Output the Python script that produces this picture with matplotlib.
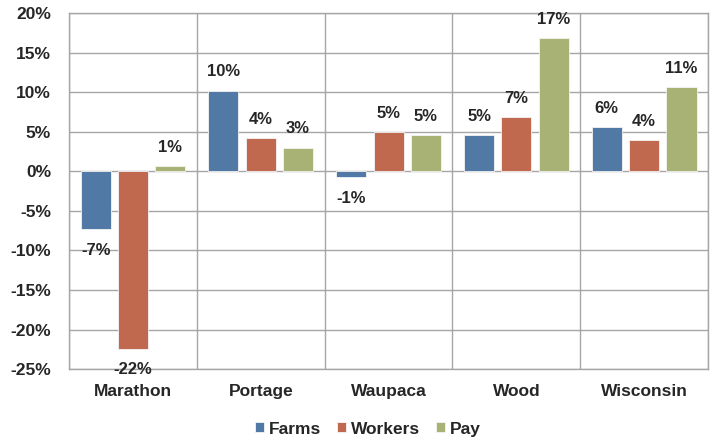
import numpy as np
import matplotlib.pyplot as plt
from matplotlib.ticker import FuncFormatter, MultipleLocator

plt.rcParams['font.family'] = ['Liberation Sans', 'DejaVu Sans']
plt.rcParams['font.weight'] = 'bold'

# percent change by area
areas = ['Marathon', 'Portage', 'Waupaca', 'Wood', 'Wisconsin']
farms = [-7.3, 10.2, -0.7, 4.6, 5.6]
workers = [-22.4, 4.2, 4.9, 6.9, 4.0]
pay = [0.7, 3.0, 4.6, 16.8, 10.6]

series = [('Farms', farms, '#5079A6'),
          ('Workers', workers, '#C1694F'),
          ('Pay', pay, '#A7B274')]

fig = plt.figure(figsize=(7.12, 4.4), dpi=100)
ax = fig.add_axes([0.097, 0.161, 0.8975, 0.8095])

x = np.arange(len(areas))
w = 0.235
step = 0.292
text_col = '#262626'
grid_col = '#A6A6A6'

for i, (name, vals, col) in enumerate(series):
    pos = x + (i - 1) * step
    ax.bar(pos, vals, width=w, color=col, edgecolor='#F4F4F4',
           linewidth=0.6, label=name, zorder=3)
    for px, v in zip(pos, vals):
        if v >= 0:
            ax.annotate('%d%%' % round(v), (px, v), xytext=(0, 8),
                        textcoords='offset points', ha='center', va='bottom',
                        fontsize=12, fontweight='bold', color=text_col)
        else:
            ax.annotate('%d%%' % round(v), (px, v), xytext=(0, -10),
                        textcoords='offset points', ha='center', va='top',
                        fontsize=12, fontweight='bold', color=text_col)

ax.set_xlim(-0.5, len(areas) - 0.5)
ax.set_ylim(-25, 20)
ax.yaxis.set_major_locator(MultipleLocator(5))
ax.yaxis.set_major_formatter(FuncFormatter(lambda v, p: '%d%%' % v))
ax.set_xticks(x)
ax.set_xticklabels(areas)
ax.set_xticks(np.arange(-0.5, len(areas), 1), minor=True)

ax.grid(axis='y', which='major', color=grid_col, linewidth=1.0, zorder=0)
ax.grid(axis='x', which='minor', color=grid_col, linewidth=1.0, zorder=0)
ax.set_axisbelow(True)
for s in ax.spines.values():
    s.set_color(grid_col)
    s.set_linewidth(1.0)

ax.tick_params(axis='both', which='both', length=0, labelsize=12.5,
               colors=text_col)
ax.tick_params(axis='y', pad=13)
ax.tick_params(axis='x', pad=11)
for lab in ax.get_xticklabels() + ax.get_yticklabels():
    lab.set_fontweight('bold')

fig.legend(loc='center', bbox_to_anchor=(368 / 712, 0.025), ncol=3,
           frameon=False, fontsize=12.5, handlelength=0.5, handleheight=0.5,
           handletextpad=0.3, columnspacing=0.9,
           labelcolor=text_col)

fig.savefig('out.png', dpi=100)
